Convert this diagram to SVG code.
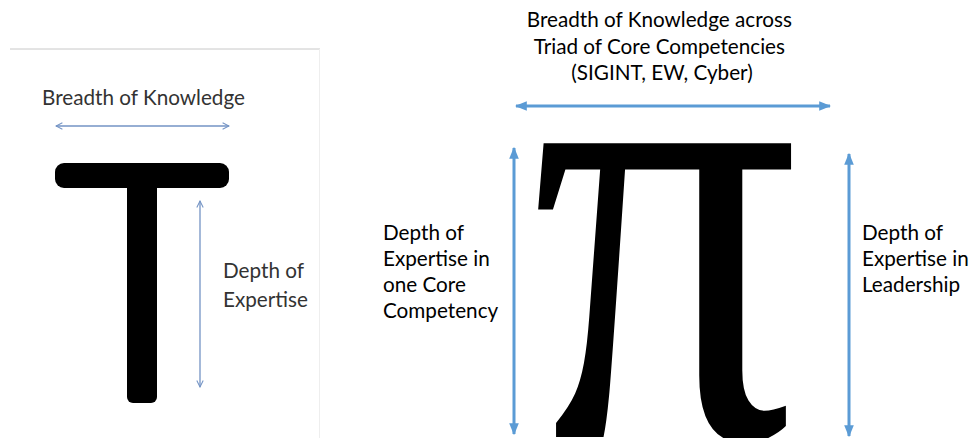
<svg xmlns="http://www.w3.org/2000/svg" width="969" height="438" viewBox="0 0 969 438">
  <defs>
    <marker id="open" viewBox="0 0 10 10" refX="9" refY="5" markerWidth="8" markerHeight="8" orient="auto-start-reverse" markerUnits="userSpaceOnUse">
      <path d="M1,1 L9,5 L1,9" fill="none" stroke="#7393c4" stroke-width="1.3"/>
    </marker>
    <marker id="solid" viewBox="0 0 10 10" refX="9" refY="5" markerWidth="12" markerHeight="12" orient="auto-start-reverse" markerUnits="userSpaceOnUse">
      <path d="M0,1 L10,5 L0,9 Z" fill="#5b9bd5"/>
    </marker>
  </defs>
  <style>
    .lbl { font-family: Lato, "Liberation Sans", sans-serif; font-size: 20.7px; fill: #000; }
    .lblT { font-family: Lato, "Liberation Sans", sans-serif; font-size: 20.7px; fill: #333; }
    .thin { stroke: #7393c4; stroke-width: 1.3; fill: none; marker-start: url(#open); marker-end: url(#open); }
    .thick { stroke: #5b9bd5; stroke-width: 3; fill: none; marker-start: url(#solid); marker-end: url(#solid); }
  </style>
  <rect width="969" height="438" fill="#fff"/>
  <g id="left-panel">
    <line x1="10" y1="49" x2="320" y2="49" stroke="#c8c8c8" stroke-width="1"/>
    <line x1="319.5" y1="49" x2="319.5" y2="438" stroke="#eeeeee" stroke-width="1"/>
  </g>
  <g id="T-shape">
    <rect x="55" y="163" width="174" height="25" rx="9" fill="#000"/>
    <rect x="127" y="180" width="30" height="223" rx="6" fill="#000"/>
  </g>
  <g id="pi-shape">
    <text transform="translate(665,437) scale(0.83,1)" x="0" y="0" text-anchor="middle" font-family="'Liberation Serif', serif" font-size="640" fill="#000">π</text>
  </g>
  <g id="labels">
    <text class="lblT" x="42" y="105">Breadth of Knowledge</text>
    <text class="lblT" x="223" y="278">Depth of</text>
    <text class="lblT" x="223" y="307">Expertise</text>
    <text class="lbl" text-anchor="middle">
      <tspan x="662" y="27">Breadth of Knowledge across</tspan>
      <tspan x="662" y="54">Triad of Core Competencies</tspan>
      <tspan x="662" y="80">(SIGINT, EW, Cyber)</tspan>
    </text>
    <text class="lbl">
      <tspan x="383" y="240">Depth of</tspan>
      <tspan x="383" y="266">Expertise in</tspan>
      <tspan x="383" y="292">one Core</tspan>
      <tspan x="383" y="318">Competency</tspan>
    </text>
    <text class="lbl">
      <tspan x="862" y="240">Depth of</tspan>
      <tspan x="862" y="266">Expertise in</tspan>
      <tspan x="862" y="292">Leadership</tspan>
    </text>
  </g>
  <g id="connectors">
    <line class="thin" x1="56" y1="126" x2="229" y2="126"/>
    <line class="thin" x1="200" y1="201" x2="200" y2="387"/>
    <line class="thick" x1="516" y1="106" x2="830" y2="106"/>
    <line class="thick" x1="514" y1="148" x2="514" y2="434"/>
    <line class="thick" x1="849" y1="154" x2="849" y2="436"/>
  </g>
</svg>
